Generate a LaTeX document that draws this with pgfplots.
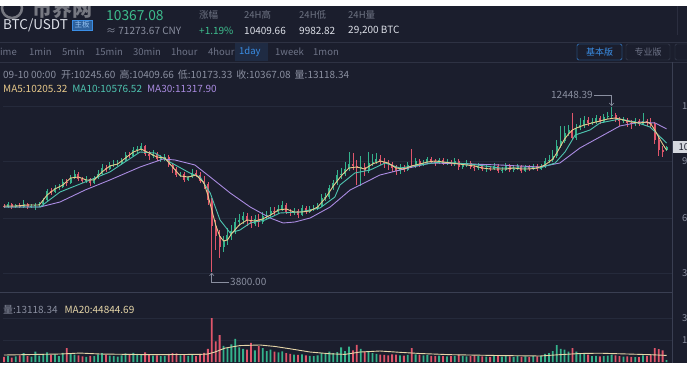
\documentclass[border=0pt]{standalone}
\usepackage{pgfplots}
\pgfplotsset{compat=1.18}
\usepackage{pgfplotstable}
\usepackage{fontspec}
\setmainfont{Noto Sans CJK SC}
\usetikzlibrary{arrows.meta}
\definecolor{bg}{HTML}{1B1E2D}
\definecolor{gridc}{HTML}{252A3B}
\definecolor{sepc}{HTML}{3A3F52}
\definecolor{txtc}{HTML}{8A8FA0}
\definecolor{tabc}{HTML}{6E7387}
\definecolor{wtxt}{HTML}{DDE0E8}
\definecolor{greenc}{HTML}{3DBD8D}
\definecolor{upc}{HTML}{34B28C}
\definecolor{dnc}{HTML}{E0566B}
\definecolor{ma5c}{HTML}{E8C98A}
\definecolor{ma10c}{HTML}{4EC4B0}
\definecolor{ma30c}{HTML}{A98BE0}
\definecolor{vmac}{HTML}{E6D6A8}
\definecolor{bluec}{HTML}{3A8EE6}
\definecolor{tagc}{HTML}{D5D8DF}
\newcommand{\fs}[1]{\fontsize{#1}{#1}\selectfont}

\pgfplotstableread{
i o h l c v
0 7270 7375 7165 7217 35000
1 7217 7480 7165 7375 42000
2 7375 7427 7112 7217 30000
3 7217 7375 7165 7322 38000
4 7322 7427 7165 7217 45000
5 7217 7585 7165 7375 60000
6 7375 7427 7112 7217 40000
7 7217 7375 7165 7270 36000
8 7270 7427 7060 7322 70000
9 7322 7480 7217 7375 44000
10 7375 7690 7270 7585 55000
11 7585 8162 7532 8057 66000
12 8057 8215 7847 8005 48000
13 8005 8372 7952 8215 52000
14 8215 8425 8110 8267 40000
15 8267 8687 8215 8530 62000
16 8530 8687 8320 8477 95000
17 8477 8897 8425 8740 58000
18 8740 9160 8687 8950 50000
19 8950 9055 8582 8687 46000
20 8687 8792 8477 8582 38000
21 8582 8845 8477 8687 35000
22 8687 8740 8320 8477 42000
23 8477 8845 8425 8740 40000
24 8740 9160 8687 8950 52000
25 8950 9475 8897 9265 60000
26 9265 9422 9055 9212 48000
27 9212 9580 9160 9422 44000
28 9422 9685 9317 9475 40000
29 9475 9685 9370 9527 36000
30 9527 9790 9422 9632 45000
31 9632 10105 9580 9947 58000
32 9947 10105 9790 9895 50000
33 9895 10367 9842 10210 62000
34 10210 10420 10052 10262 55000
35 10262 10577 10157 10420 48000
36 10420 10472 9895 10000 65000
37 10000 10157 9685 9895 52000
38 9895 10210 9790 10000 44000
39 10000 10105 9632 9737 46000
40 9737 9947 9580 9790 40000
41 9790 10000 9632 9842 42000
42 9842 9947 9317 9422 55000
43 9422 9527 9002 9212 60000
44 9212 9317 8792 8897 58000
45 8897 9055 8792 8950 45000
46 8950 9055 8530 8635 50000
47 8635 8845 8582 8792 42000
48 8792 9212 8740 9002 48000
49 9002 9160 8792 8897 40000
50 8897 9055 8477 8582 55000
51 8582 8845 8162 8425 62000
52 8425 8530 7322 7585 90000
53 7585 7690 3800 6220 300000
54 6220 6535 4960 5695 140000
55 5695 6010 4540 5117 184000
56 5117 5695 4855 5485 110000
57 5485 6115 5222 5747 95000
58 5747 6272 5485 5957 120000
59 5957 6640 5800 6430 157000
60 6430 6850 6220 6535 100000
61 6535 6955 6325 6745 90000
62 6745 6902 6220 6482 85000
63 6482 6745 6115 6325 130000
64 6325 6797 6220 6587 80000
65 6587 6850 6167 6430 110000
66 6430 6955 6325 6745 95000
67 6745 7007 6587 6797 75000
68 6797 7217 6692 7007 85000
69 7007 7217 6797 6955 70000
70 6955 7322 6850 7112 65000
71 7112 7532 7007 7322 72000
72 7322 7427 6850 6955 60000
73 6955 7112 6745 6902 55000
74 6902 7165 6797 7007 50000
75 7007 7112 6640 6797 48000
76 6797 7322 6745 7165 52000
77 7165 7270 6850 6955 45000
78 6955 7270 6902 7112 42000
79 7112 7322 7007 7165 40000
80 7165 7427 7060 7270 45000
81 7270 7900 7217 7690 62000
82 7690 7952 7532 7742 55000
83 7742 8372 7637 8215 70000
84 8215 8635 8110 8477 60000
85 8477 9160 8372 8897 68000
86 8897 9265 8687 8950 100000
87 8950 9580 8845 9212 75000
88 9212 10105 9107 9475 105000
89 9475 10052 9160 9370 80000
90 9370 9685 8372 9265 116000
91 9265 9895 8320 9317 90000
92 9317 9527 8845 9107 70000
93 9107 10105 9002 9527 75000
94 9527 10000 9370 9580 60000
95 9580 10052 9475 9737 55000
96 9737 9947 9422 9580 50000
97 9580 9790 9265 9527 48000
98 9527 9685 9160 9475 45000
99 9475 9580 9055 9265 52000
100 9265 9422 8897 9107 50000
101 9107 9475 8950 9265 46000
102 9265 9422 9055 9160 44000
103 9160 9580 9107 9422 48000
104 9422 10262 9265 9370 95000
105 9370 9790 9265 9632 52000
106 9632 9737 9317 9422 50000
107 9422 9685 9370 9527 45000
108 9527 9842 9475 9737 48000
109 9737 9842 9527 9632 42000
110 9632 9737 9370 9527 40000
111 9527 9790 9475 9685 44000
112 9685 9790 9422 9527 40000
113 9527 9737 9422 9580 38000
114 9580 9685 9370 9475 40000
115 9475 9790 9370 9632 42000
116 9632 9737 9160 9317 50000
117 9317 9527 9212 9422 40000
118 9422 9685 9317 9527 38000
119 9527 9632 9212 9317 42000
120 9317 9475 9107 9265 45000
121 9265 9527 9160 9370 40000
122 9370 9475 9107 9212 38000
123 9212 9422 9055 9265 36000
124 9265 9370 9107 9212 35000
125 9212 9527 9160 9370 40000
126 9370 9475 9002 9107 44000
127 9107 9317 9002 9160 36000
128 9160 9527 9107 9370 40000
129 9370 9475 9055 9160 38000
130 9160 9370 9055 9212 35000
131 9212 9475 9160 9370 40000
132 9370 9422 9002 9107 36000
133 9107 9422 9055 9317 38000
134 9317 9422 9107 9212 34000
135 9212 9475 9160 9370 40000
136 9370 9475 9107 9212 38000
137 9212 9475 9160 9317 42000
138 9317 9790 9265 9632 55000
139 9632 9947 9527 9685 60000
140 9685 10210 9580 9895 75000
141 9895 10735 9790 10420 115000
142 10420 11470 10315 10682 90000
143 10682 11470 10577 11102 85000
144 11102 11522 10945 11260 70000
145 11260 12152 10735 10840 95000
146 10840 11575 10735 11365 70000
147 11365 11890 11260 11522 60000
148 11522 11995 11365 11785 55000
149 11785 11942 11470 11627 50000
150 11627 11890 11522 11680 40000
151 11680 12047 11575 11890 42000
152 11890 11995 11575 11680 38000
153 11680 12100 11627 11942 40000
154 11942 12205 11837 11995 44000
155 11995 12448.39 11890 12047 50000
156 12047 12152 11680 11785 46000
157 11785 11942 11470 11732 40000
158 11732 11942 11627 11785 36000
159 11785 11890 11417 11627 38000
160 11627 11785 11312 11575 35000
161 11575 11890 11470 11732 34000
162 11732 11837 11470 11575 33000
163 11575 12152 11522 11732 45000
164 11732 11837 11470 11627 40000
165 11627 11890 11417 11575 48000
166 11575 11680 10525 10735 95000
167 10735 10945 9895 10210 88000
168 10210 10420 9842 10105 80000
169 10245.60 10409.66 10173.33 10367.08 13118.34
}\candles

\pgfplotstableread{
i m
0 7270
3 7270
6 7322
9 7322
11 7847
13 8162
15 8372
17 8740
19 8792
21 8635
23 8635
25 9055
27 9370
29 9475
31 9790
33 10105
35 10262
37 10052
39 9842
41 9790
43 9317
45 8845
47 8792
49 8897
51 8477
52 7847
53 7060
54 6272
55 5695
56 5432
57 5485
58 5800
60 6272
62 6535
64 6482
66 6587
68 6797
70 7060
72 7112
74 6955
76 6955
78 7007
80 7217
82 7690
84 8320
86 8845
88 9265
90 9317
92 9212
94 9475
96 9632
98 9527
100 9265
102 9212
104 9370
106 9475
108 9580
110 9632
112 9580
114 9527
116 9475
118 9422
120 9370
122 9265
124 9212
126 9212
128 9212
130 9265
132 9212
134 9212
136 9265
138 9422
140 9737
141 10052
142 10420
143 10787
144 11050
145 11260
146 11365
148 11522
150 11627
152 11732
154 11837
156 11890
158 11785
160 11680
162 11627
164 11680
165 11575
166 11260
167 10892
168 10525
169 10205.32
}\mafive

\pgfplotstableread{
i m
0 7217
9.2 7217
14.3 8005
20.7 8530
27 9055
34.7 10105
38.5 10052
42.3 9580
47.4 9002
50 8792
52.6 7952
55.1 6535
57.7 5852
60.2 6010
62.8 6377
66.6 6535
70.4 6902
75.5 6955
80.6 7165
84.4 7742
85.7 8372
89.5 9002
93.4 9160
97.2 9527
101 9265
106.1 9422
111.2 9580
118.9 9475
126.5 9265
136.7 9265
140.6 9527
143.1 10105
145.7 10997
149.5 11260
152 11627
157.1 11837
161 11680
164.8 11417
169 10576.52
}\maten

\pgfplotstableread{
i m
0 7217
9.2 7217
14.3 7480
20.7 8110
27 8635
34.7 9317
40.6 9737
43.6 9685
48.7 9422
52.6 8792
57.7 7952
62.8 7217
67.9 6640
71.2 6377
74.2 6430
78.1 6640
83.2 7217
88.3 8110
95.9 8897
101 9160
108.7 9527
118.9 9475
126.5 9422
136.7 9317
141.8 9527
146.9 10315
152 10892
157.1 11470
162.2 11680
166.1 11627
169 11317.90
}\mathirty

\pgfplotstableread{
i m
0 47700
14.3 54500
19.4 61000
24.5 54500
37.2 50000
50 52000
52 54500
53.8 68000
56.4 95000
60.2 112000
65.3 116000
69.1 106000
73 90000
78.1 68000
83.2 56000
87 52000
90.8 68000
95.9 75000
101 66000
106.1 58000
113.8 50000
126.5 44000
136.7 41000
141.8 50000
147 58000
152 60000
159.7 54000
164.8 50000
169 44844.69
}\volma

\begin{document}
\begin{tikzpicture}
\useasboundingbox (0pt,0pt) rectangle (687pt,370pt);
\fill[bg] (0pt,7pt) rectangle (687pt,364pt);
% watermark
\draw[white, opacity=0.4, line width=2.5pt] (12pt,362pt) circle (10pt);
\node[anchor=west, inner sep=0pt, text=white, opacity=0.4, font=\fs{20}\bfseries] at (32pt,361pt) {币界网};
% header
\node[anchor=west, inner sep=0pt, text=wtxt, font=\fs{13.5}] at (3pt,345pt) {BTC/USDT};
\node[anchor=west, inner xsep=2.5pt, inner ysep=1.5pt, fill=bluec!60!bg, draw=bluec, text=bluec!55!white, font=\fs{7.5}] at (72pt,345pt) {主板};
\node[anchor=west, inner sep=0pt, text=greenc, font=\fs{13.8}] at (106pt,354pt) {10367.08};
\node[anchor=west, inner sep=0pt, text=txtc, font=\fs{10}] at (106pt,339pt) {≈ 71273.67 CNY};
\node[anchor=west, inner sep=0pt, text=txtc!75!bg, font=\fs{9.5}] at (199pt,355pt) {涨幅};
\node[anchor=west, inner sep=0pt, text=greenc, font=\fs{10}] at (199pt,339pt) {+1.19\%};
\node[anchor=west, inner sep=0pt, text=txtc!75!bg, font=\fs{9.5}] at (244pt,355pt) {24H高};
\node[anchor=west, inner sep=0pt, text=wtxt, font=\fs{10}] at (244pt,339pt) {10409.66};
\node[anchor=west, inner sep=0pt, text=txtc!75!bg, font=\fs{9.5}] at (299pt,355pt) {24H低};
\node[anchor=west, inner sep=0pt, text=wtxt, font=\fs{10}] at (299pt,339pt) {9982.82};
\node[anchor=west, inner sep=0pt, text=txtc!75!bg, font=\fs{9.5}] at (348pt,355pt) {24H量};
\node[anchor=west, inner sep=0pt, text=wtxt, font=\fs{10}] at (348pt,339pt) {29,200 BTC};
\draw[sepc!50!bg] (677.5pt,335pt) -- (677.5pt,364pt);
% tabs
\draw[sepc!60!bg] (0pt,328pt) -- (687pt,328pt);
\draw[sepc!60!bg] (0pt,308pt) -- (687pt,308pt);
\fill[bluec!12!bg] (235pt,309pt) rectangle (268pt,327pt);
\foreach \t/\xx in {1min/29,5min/62,15min/95,30min/133,1hour/171,4hour/208,1week/275,1mon/313}
  \node[anchor=west, inner sep=0pt, text=tabc, font=\fs{9.5}] at (\xx pt,318pt) {\t};
\node[anchor=east, inner sep=0pt, text=tabc, font=\fs{9.5}] at (17pt,318pt) {Time};
\node[anchor=west, inner sep=0pt, text=bluec, font=\fs{9.5}] at (239pt,318pt) {1day};
\draw[bluec, rounded corners=1.5pt] (577pt,310pt) rectangle (622pt,326pt);
\node[text=bluec, font=\fs{9}, inner sep=0pt] at (599.5pt,318pt) {基本版};
\draw[sepc, rounded corners=1.5pt] (626pt,310pt) rectangle (670pt,326pt);
\node[text=tabc, font=\fs{9}, inner sep=0pt] at (648pt,318pt) {专业版};
\draw[sepc, rounded corners=1.5pt] (675pt,310pt) rectangle (700pt,326pt);
% info rows
\node[anchor=west, inner sep=0pt, text=txtc, font=\fs{10}] at (3pt,295pt) {09-10 00:00\hspace{5pt}开:10245.60\hspace{4pt}高:10409.66\hspace{4pt}低:10173.33\hspace{4pt}收:10367.08\hspace{4pt}量:13118.34};
\node[anchor=west, inner sep=0pt, font=\fs{10}] at (3pt,281pt) {\color{ma5c}MA5:10205.32\hspace{5pt}\color{ma10c}MA10:10576.52\hspace{5pt}\color{ma30c}MA30:11317.90};

\begin{axis}[
  at={(3pt,78pt)}, anchor=south west, scale only axis, width=669pt, height=230pt,
  xmin=-0.255, xmax=170.4, ymin=2754.5, ymax=14829.5,
  axis line style={draw=none}, xtick=\empty,
  ytick={3752,6640,9632,12520}, yticklabels={3750.00,6640.00,9630.00,12520.00},
  yticklabel pos=right, ymajorgrids, grid style={gridc, line width=0.6pt},
  major tick length=0pt,
  yticklabel style={font=\fs{9.5}, text=txtc, xshift=6.5pt},
  scaled y ticks=false,
]
% wicks
\addplot[draw=none, mark=none, forget plot,
  restrict expr to domain={\thisrow{c}-\thisrow{o}}{0:1000000},
  error bars/.cd, y dir=both, y explicit, error mark=none,
  error bar style={draw=upc, line width=0.7pt}]
  table[x=i, y expr={(\thisrow{h}+\thisrow{l})/2}, y error expr={(\thisrow{h}-\thisrow{l})/2}] {\candles};
\addplot[draw=none, mark=none, forget plot,
  restrict expr to domain={\thisrow{o}-\thisrow{c}}{0.001:1000000},
  error bars/.cd, y dir=both, y explicit, error mark=none,
  error bar style={draw=dnc, line width=0.7pt}]
  table[x=i, y expr={(\thisrow{h}+\thisrow{l})/2}, y error expr={(\thisrow{h}-\thisrow{l})/2}] {\candles};
% bodies
\addplot[draw=none, mark=none, forget plot,
  restrict expr to domain={\thisrow{c}-\thisrow{o}}{0:1000000},
  error bars/.cd, y dir=both, y explicit, error mark=none,
  error bar style={draw=upc, line width=2pt}]
  table[x=i, y expr={(\thisrow{o}+\thisrow{c})/2}, y error expr={(\thisrow{c}-\thisrow{o})/2+10}] {\candles};
\addplot[draw=none, mark=none, forget plot,
  restrict expr to domain={\thisrow{o}-\thisrow{c}}{0.001:1000000},
  error bars/.cd, y dir=both, y explicit, error mark=none,
  error bar style={draw=dnc, line width=2pt}]
  table[x=i, y expr={(\thisrow{o}+\thisrow{c})/2}, y error expr={(\thisrow{o}-\thisrow{c})/2+10}] {\candles};
% moving averages
\addplot[ma30c, line width=0.9pt, line join=round, mark=none] table[x=i, y=m] {\mathirty};
\addplot[ma10c, line width=0.9pt, line join=round, mark=none] table[x=i, y=m] {\maten};
\addplot[ma5c, line width=0.9pt, line join=round, mark=none] table[x=i, y=m] {\mafive};
% annotations
\draw[txtc, line width=0.6pt, -{Straight Barb[length=2.5pt,width=4.5pt]}] (axis cs:150.5,13097) -- (axis cs:155,13097) -- (axis cs:155,12520);
\node[anchor=east, inner sep=1pt, text=txtc, font=\fs{10}] at (axis cs:150.5,13097) {12448.39};
\draw[txtc, line width=0.6pt, -{Straight Barb[length=2.5pt,width=4.5pt]}] (axis cs:57.4,3280) -- (axis cs:53,3280) -- (axis cs:53,3760);
\node[anchor=west, inner sep=1pt, text=txtc, font=\fs{10}] at (axis cs:57.4,3280) {3800.00};
\end{axis}

\begin{axis}[
  at={(3pt,8pt)}, anchor=south west, scale only axis, width=669pt, height=70pt,
  xmin=-0.255, xmax=170.4, ymin=0, ymax=477260,
  axis line style={draw=none}, xtick=\empty,
  ytick={150000,300000}, yticklabels={150000,300000},
  yticklabel pos=right, ymajorgrids, grid style={gridc, line width=0.6pt},
  major tick length=0pt,
  yticklabel style={font=\fs{9.5}, text=txtc, xshift=6.5pt},
  scaled y ticks=false,
]
\addplot[ybar, bar width=1.8pt, bar shift=0pt, fill=upc, draw=none, forget plot,
  restrict expr to domain={\thisrow{c}-\thisrow{o}}{0:1000000}]
  table[x=i, y=v] {\candles};
\addplot[ybar, bar width=1.8pt, bar shift=0pt, fill=dnc, draw=none, forget plot,
  restrict expr to domain={\thisrow{o}-\thisrow{c}}{0.001:1000000}]
  table[x=i, y=v] {\candles};
\addplot[vmac, line width=0.9pt, line join=round, mark=none] table[x=i, y=m] {\volma};
\end{axis}

\draw[sepc] (0pt,78pt) -- (672pt,78pt);
\draw[sepc] (672pt,7pt) -- (672pt,308pt);
\node[anchor=west, inner sep=0pt, font=\fs{10}] at (3pt,60pt) {\color{txtc}量:13118.34\hspace{7pt}\color{vmac}MA20:44844.69};
\node[anchor=west, fill=tagc, text=bg, inner xsep=6pt, inner ysep=2pt, font=\fs{9.5}] at (672.5pt,223pt) {10367.08};
\end{tikzpicture}
\end{document}
